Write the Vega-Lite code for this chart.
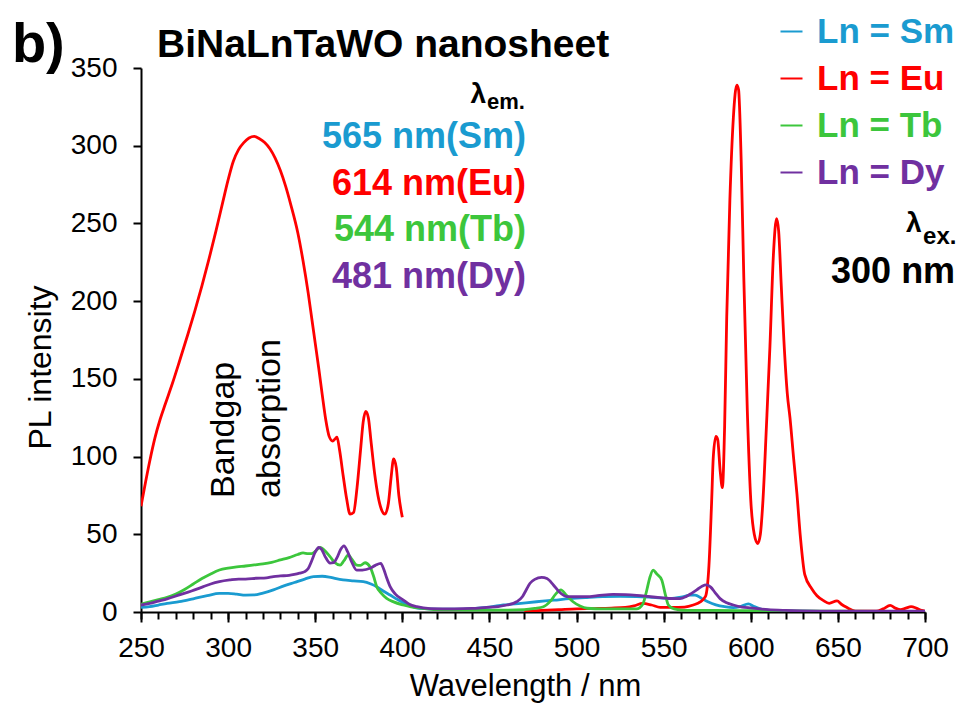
{
  "$schema": "https://vega.github.io/schema/vega-lite/v6.json",
  "width": 784,
  "height": 544,
  "autosize": "none",
  "padding": {"left": 141, "top": 68, "right": 34, "bottom": 94},
  "background": "white",
  "config": {"view": {"stroke": null}, "font": "Liberation Sans"},
  "layer": [
    {
      "data": {"values": [
    {"s":"Sm","x":250,"y":3},{"s":"Sm","x":255,"y":3.5},{"s":"Sm","x":260,"y":4.5},{"s":"Sm","x":265,"y":5.5},{"s":"Sm","x":272,"y":6.6},{"s":"Sm","x":280,"y":8.5},{"s":"Sm","x":288,"y":10.5},{"s":"Sm","x":295,"y":12},{"s":"Sm","x":300,"y":12},{"s":"Sm","x":305,"y":11.5},{"s":"Sm","x":310,"y":10.9},{"s":"Sm","x":315,"y":11},{"s":"Sm","x":320,"y":12.2},{"s":"Sm","x":326,"y":14.2},{"s":"Sm","x":332,"y":16.8},{"s":"Sm","x":338,"y":19},{"s":"Sm","x":344,"y":21.2},{"s":"Sm","x":349,"y":22.8},{"s":"Sm","x":354,"y":23},{"s":"Sm","x":358,"y":22.5},{"s":"Sm","x":362,"y":21.4},{"s":"Sm","x":366,"y":20.6},{"s":"Sm","x":372,"y":20},{"s":"Sm","x":377.6,"y":19.5},{"s":"Sm","x":382,"y":18},{"s":"Sm","x":385.3,"y":16.3},{"s":"Sm","x":389,"y":13.5},{"s":"Sm","x":393,"y":10.9},{"s":"Sm","x":397,"y":8.2},{"s":"Sm","x":400.6,"y":6},{"s":"Sm","x":405,"y":3.8},{"s":"Sm","x":410,"y":2.3},{"s":"Sm","x":420,"y":1.8},{"s":"Sm","x":430,"y":1.8},{"s":"Sm","x":440,"y":2.2},{"s":"Sm","x":450,"y":3.2},{"s":"Sm","x":458,"y":4.5},{"s":"Sm","x":468,"y":5.6},{"s":"Sm","x":477,"y":6.6},{"s":"Sm","x":487,"y":7.6},{"s":"Sm","x":496,"y":8.6},{"s":"Sm","x":505,"y":9.3},{"s":"Sm","x":515,"y":9.9},{"s":"Sm","x":525,"y":10},{"s":"Sm","x":534.5,"y":9.9},{"s":"Sm","x":544,"y":9.4},{"s":"Sm","x":553.6,"y":8.8},{"s":"Sm","x":560,"y":9.6},{"s":"Sm","x":565,"y":10.8},{"s":"Sm","x":568,"y":10.9},{"s":"Sm","x":572,"y":8.6},{"s":"Sm","x":575.4,"y":6.6},{"s":"Sm","x":580,"y":4.6},{"s":"Sm","x":585,"y":3.4},{"s":"Sm","x":590,"y":2.8},{"s":"Sm","x":594,"y":3.5},{"s":"Sm","x":598.6,"y":5.2},{"s":"Sm","x":602,"y":3.5},{"s":"Sm","x":607,"y":1.5},{"s":"Sm","x":615,"y":0.8},{"s":"Sm","x":630,"y":0.5},{"s":"Sm","x":650,"y":0.3},{"s":"Sm","x":700,"y":0.2},

    {"s":"Eu","g":"a","x":250,"y":68},{"s":"Eu","g":"a","x":252,"y":80},{"s":"Eu","g":"a","x":255,"y":97},{"s":"Eu","g":"a","x":258,"y":112},{"s":"Eu","g":"a","x":261,"y":124},{"s":"Eu","g":"a","x":264,"y":134},{"s":"Eu","g":"a","x":268,"y":147},{"s":"Eu","g":"a","x":272,"y":161},{"s":"Eu","g":"a","x":277,"y":179},{"s":"Eu","g":"a","x":281,"y":194},{"s":"Eu","g":"a","x":285,"y":210},{"s":"Eu","g":"a","x":289,"y":227},{"s":"Eu","g":"a","x":293,"y":245},{"s":"Eu","g":"a","x":297,"y":264},{"s":"Eu","g":"a","x":300,"y":278},{"s":"Eu","g":"a","x":303,"y":290},{"s":"Eu","g":"a","x":306,"y":297.5},{"s":"Eu","g":"a","x":309,"y":302},{"s":"Eu","g":"a","x":312,"y":305},{"s":"Eu","g":"a","x":315,"y":306},{"s":"Eu","g":"a","x":318,"y":304.5},{"s":"Eu","g":"a","x":321,"y":302},{"s":"Eu","g":"a","x":324,"y":298},{"s":"Eu","g":"a","x":327,"y":292},{"s":"Eu","g":"a","x":330,"y":284},{"s":"Eu","g":"a","x":333,"y":274},{"s":"Eu","g":"a","x":336,"y":262},{"s":"Eu","g":"a","x":340,"y":244},{"s":"Eu","g":"a","x":343,"y":226},{"s":"Eu","g":"a","x":346,"y":205},{"s":"Eu","g":"a","x":348,"y":189},{"s":"Eu","g":"a","x":350,"y":173},{"s":"Eu","g":"a","x":352,"y":157},{"s":"Eu","g":"a","x":354,"y":140},{"s":"Eu","g":"a","x":356,"y":124},{"s":"Eu","g":"a","x":358,"y":113},{"s":"Eu","g":"a","x":360,"y":110},{"s":"Eu","g":"a","x":361.5,"y":111.5},{"s":"Eu","g":"a","x":362.5,"y":112.5},{"s":"Eu","g":"a","x":364,"y":104},{"s":"Eu","g":"a","x":366,"y":88},{"s":"Eu","g":"a","x":368,"y":73},{"s":"Eu","g":"a","x":370,"y":63},{"s":"Eu","g":"a","x":372,"y":64},{"s":"Eu","g":"a","x":374,"y":80},{"s":"Eu","g":"a","x":376,"y":104},{"s":"Eu","g":"a","x":377.5,"y":122},{"s":"Eu","g":"a","x":379,"y":129},{"s":"Eu","g":"a","x":380.5,"y":125},{"s":"Eu","g":"a","x":382,"y":110},{"s":"Eu","g":"a","x":384,"y":90},{"s":"Eu","g":"a","x":386,"y":75},{"s":"Eu","g":"a","x":388,"y":66},{"s":"Eu","g":"a","x":390,"y":63},{"s":"Eu","g":"a","x":392,"y":70},{"s":"Eu","g":"a","x":393.5,"y":86},{"s":"Eu","g":"a","x":395,"y":98.5},{"s":"Eu","g":"a","x":396.5,"y":93},{"s":"Eu","g":"a","x":398,"y":75},{"s":"Eu","g":"a","x":400,"y":61},

    {"s":"Eu","g":"b","x":470,"y":0.5},{"s":"Eu","g":"b","x":480,"y":1},{"s":"Eu","g":"b","x":490,"y":1.5},{"s":"Eu","g":"b","x":500,"y":2},{"s":"Eu","g":"b","x":510,"y":2.2},{"s":"Eu","g":"b","x":520,"y":2.5},{"s":"Eu","g":"b","x":528,"y":3},{"s":"Eu","g":"b","x":533,"y":4},{"s":"Eu","g":"b","x":538,"y":5.5},{"s":"Eu","g":"b","x":543,"y":4.5},{"s":"Eu","g":"b","x":548,"y":3},{"s":"Eu","g":"b","x":555,"y":3},{"s":"Eu","g":"b","x":562,"y":3.2},{"s":"Eu","g":"b","x":567,"y":4.5},{"s":"Eu","g":"b","x":571,"y":6.5},{"s":"Eu","g":"b","x":574,"y":10},{"s":"Eu","g":"b","x":576,"y":30},{"s":"Eu","g":"b","x":577.5,"y":70},{"s":"Eu","g":"b","x":578.5,"y":100},{"s":"Eu","g":"b","x":580,"y":113},{"s":"Eu","g":"b","x":581,"y":111},{"s":"Eu","g":"b","x":582.5,"y":90},{"s":"Eu","g":"b","x":583.7,"y":80},{"s":"Eu","g":"b","x":585,"y":120},{"s":"Eu","g":"b","x":586.2,"y":190},{"s":"Eu","g":"b","x":588,"y":265},{"s":"Eu","g":"b","x":590,"y":318},{"s":"Eu","g":"b","x":592,"y":339},{"s":"Eu","g":"b","x":593,"y":336},{"s":"Eu","g":"b","x":594.5,"y":290},{"s":"Eu","g":"b","x":596,"y":215},{"s":"Eu","g":"b","x":598,"y":130},{"s":"Eu","g":"b","x":600,"y":72},{"s":"Eu","g":"b","x":602,"y":50},{"s":"Eu","g":"b","x":604,"y":44},{"s":"Eu","g":"b","x":605.5,"y":50},{"s":"Eu","g":"b","x":607,"y":72},{"s":"Eu","g":"b","x":609,"y":120},{"s":"Eu","g":"b","x":611,"y":171},{"s":"Eu","g":"b","x":613,"y":230},{"s":"Eu","g":"b","x":614.8,"y":253},{"s":"Eu","g":"b","x":616,"y":245},{"s":"Eu","g":"b","x":617.5,"y":210},{"s":"Eu","g":"b","x":619,"y":175},{"s":"Eu","g":"b","x":621,"y":140},{"s":"Eu","g":"b","x":622.5,"y":125},{"s":"Eu","g":"b","x":624.5,"y":100},{"s":"Eu","g":"b","x":626.5,"y":76},{"s":"Eu","g":"b","x":628.5,"y":48},{"s":"Eu","g":"b","x":631,"y":24},{"s":"Eu","g":"b","x":635,"y":15},{"s":"Eu","g":"b","x":638,"y":10.5},{"s":"Eu","g":"b","x":641.5,"y":7.5},{"s":"Eu","g":"b","x":645,"y":5.6},{"s":"Eu","g":"b","x":649.5,"y":7.2},{"s":"Eu","g":"b","x":652,"y":5},{"s":"Eu","g":"b","x":655,"y":3},{"s":"Eu","g":"b","x":660,"y":0.6},{"s":"Eu","g":"b","x":672,"y":0.5},{"s":"Eu","g":"b","x":676,"y":2},{"s":"Eu","g":"b","x":680,"y":4.3},{"s":"Eu","g":"b","x":683,"y":2.5},{"s":"Eu","g":"b","x":686,"y":1.5},{"s":"Eu","g":"b","x":689,"y":2.5},{"s":"Eu","g":"b","x":692,"y":3.4},{"s":"Eu","g":"b","x":695,"y":2.5},{"s":"Eu","g":"b","x":698,"y":1},{"s":"Eu","g":"b","x":700,"y":0.5},

    {"s":"Tb","x":250,"y":5},{"s":"Tb","x":255,"y":6.5},{"s":"Tb","x":260,"y":8},{"s":"Tb","x":265,"y":9.5},{"s":"Tb","x":270,"y":11.5},{"s":"Tb","x":275,"y":14.5},{"s":"Tb","x":280,"y":18},{"s":"Tb","x":285,"y":21.5},{"s":"Tb","x":290,"y":24.5},{"s":"Tb","x":295,"y":27},{"s":"Tb","x":300,"y":28.2},{"s":"Tb","x":305,"y":29},{"s":"Tb","x":310,"y":29.6},{"s":"Tb","x":315,"y":30.3},{"s":"Tb","x":320,"y":31},{"s":"Tb","x":325,"y":32},{"s":"Tb","x":330,"y":33.5},{"s":"Tb","x":335,"y":35},{"s":"Tb","x":340,"y":37},{"s":"Tb","x":343,"y":38},{"s":"Tb","x":346,"y":37.5},{"s":"Tb","x":348,"y":37.5},{"s":"Tb","x":350,"y":39},{"s":"Tb","x":352.8,"y":41.6},{"s":"Tb","x":355,"y":40},{"s":"Tb","x":358.5,"y":35.6},{"s":"Tb","x":361,"y":32},{"s":"Tb","x":364.3,"y":30.2},{"s":"Tb","x":366.5,"y":33},{"s":"Tb","x":369,"y":36.7},{"s":"Tb","x":371,"y":34},{"s":"Tb","x":373.8,"y":30.2},{"s":"Tb","x":376,"y":30},{"s":"Tb","x":378.6,"y":31.7},{"s":"Tb","x":381.5,"y":29},{"s":"Tb","x":383.5,"y":23},{"s":"Tb","x":385.3,"y":16.3},{"s":"Tb","x":388,"y":12},{"s":"Tb","x":391,"y":8.8},{"s":"Tb","x":395,"y":6.5},{"s":"Tb","x":400.5,"y":4.5},{"s":"Tb","x":405,"y":3.3},{"s":"Tb","x":410,"y":2.5},{"s":"Tb","x":420,"y":1.5},{"s":"Tb","x":440,"y":1.2},{"s":"Tb","x":460,"y":1.2},{"s":"Tb","x":470,"y":1.5},{"s":"Tb","x":476,"y":2.3},{"s":"Tb","x":481,"y":3.4},{"s":"Tb","x":485,"y":7},{"s":"Tb","x":488,"y":11.5},{"s":"Tb","x":491,"y":14.2},{"s":"Tb","x":494,"y":11},{"s":"Tb","x":498,"y":6.6},{"s":"Tb","x":502,"y":3.8},{"s":"Tb","x":506,"y":2.4},{"s":"Tb","x":515,"y":2},{"s":"Tb","x":525,"y":2},{"s":"Tb","x":534.5,"y":2},{"s":"Tb","x":538,"y":5},{"s":"Tb","x":540.3,"y":14},{"s":"Tb","x":542,"y":22},{"s":"Tb","x":544,"y":27},{"s":"Tb","x":546,"y":24.5},{"s":"Tb","x":548.9,"y":20.6},{"s":"Tb","x":551,"y":11},{"s":"Tb","x":552.7,"y":4.5},{"s":"Tb","x":556,"y":2},{"s":"Tb","x":563,"y":1},{"s":"Tb","x":580,"y":1},{"s":"Tb","x":600,"y":0.8},{"s":"Tb","x":650,"y":0.5},{"s":"Tb","x":700,"y":0.3},

    {"s":"Dy","x":250,"y":4.5},{"s":"Dy","x":255,"y":5.5},{"s":"Dy","x":260,"y":7},{"s":"Dy","x":265,"y":8.5},{"s":"Dy","x":272,"y":11},{"s":"Dy","x":279,"y":13.5},{"s":"Dy","x":285.8,"y":16.3},{"s":"Dy","x":290,"y":18},{"s":"Dy","x":295,"y":19.5},{"s":"Dy","x":301,"y":20.6},{"s":"Dy","x":306,"y":21.2},{"s":"Dy","x":310,"y":21.2},{"s":"Dy","x":316,"y":21.7},{"s":"Dy","x":322,"y":22},{"s":"Dy","x":326,"y":22.8},{"s":"Dy","x":330,"y":23.2},{"s":"Dy","x":335,"y":23.6},{"s":"Dy","x":338,"y":24.2},{"s":"Dy","x":341,"y":25},{"s":"Dy","x":344,"y":26},{"s":"Dy","x":346,"y":28},{"s":"Dy","x":348,"y":33},{"s":"Dy","x":350,"y":38.5},{"s":"Dy","x":352,"y":41.5},{"s":"Dy","x":353.5,"y":40.5},{"s":"Dy","x":356,"y":35},{"s":"Dy","x":358.5,"y":31.5},{"s":"Dy","x":360.5,"y":31.7},{"s":"Dy","x":362.5,"y":35},{"s":"Dy","x":364.5,"y":40},{"s":"Dy","x":366.5,"y":42.5},{"s":"Dy","x":368.5,"y":39},{"s":"Dy","x":371,"y":32},{"s":"Dy","x":373.8,"y":27},{"s":"Dy","x":377,"y":27},{"s":"Dy","x":381.5,"y":28.1},{"s":"Dy","x":384.5,"y":30},{"s":"Dy","x":387.6,"y":31.3},{"s":"Dy","x":389.5,"y":27},{"s":"Dy","x":391,"y":22},{"s":"Dy","x":393,"y":16.3},{"s":"Dy","x":396,"y":11.5},{"s":"Dy","x":400.6,"y":7.7},{"s":"Dy","x":404,"y":5},{"s":"Dy","x":408.3,"y":3.4},{"s":"Dy","x":416,"y":2.2},{"s":"Dy","x":430,"y":2},{"s":"Dy","x":440,"y":2.3},{"s":"Dy","x":448.4,"y":3},{"s":"Dy","x":455,"y":3.5},{"s":"Dy","x":460,"y":4.5},{"s":"Dy","x":465.6,"y":6.6},{"s":"Dy","x":469,"y":10},{"s":"Dy","x":471,"y":14},{"s":"Dy","x":473.3,"y":18.5},{"s":"Dy","x":476,"y":21},{"s":"Dy","x":480,"y":22.3},{"s":"Dy","x":483,"y":21.5},{"s":"Dy","x":486.7,"y":17.4},{"s":"Dy","x":490,"y":13},{"s":"Dy","x":494.4,"y":9.9},{"s":"Dy","x":500,"y":9.8},{"s":"Dy","x":506,"y":9.9},{"s":"Dy","x":512,"y":10.5},{"s":"Dy","x":521,"y":11.4},{"s":"Dy","x":528,"y":11.2},{"s":"Dy","x":534.5,"y":10.7},{"s":"Dy","x":541,"y":10},{"s":"Dy","x":547.9,"y":9.2},{"s":"Dy","x":553,"y":8.7},{"s":"Dy","x":559.4,"y":8.6},{"s":"Dy","x":563,"y":10},{"s":"Dy","x":566,"y":12},{"s":"Dy","x":569,"y":14.2},{"s":"Dy","x":572,"y":16.6},{"s":"Dy","x":574.7,"y":17.4},{"s":"Dy","x":577,"y":16},{"s":"Dy","x":579.5,"y":12.5},{"s":"Dy","x":582.4,"y":8.6},{"s":"Dy","x":586.2,"y":5.9},{"s":"Dy","x":590,"y":4.5},{"s":"Dy","x":595,"y":3.2},{"s":"Dy","x":600,"y":2.6},{"s":"Dy","x":610,"y":1.5},{"s":"Dy","x":620,"y":1},{"s":"Dy","x":640,"y":0.6},{"s":"Dy","x":700,"y":0.5}
      ]},
      "mark": {"type": "line", "interpolate": "monotone", "strokeWidth": 2.8, "clip": true},
      "encoding": {
        "x": {"field": "x", "type": "quantitative",
          "scale": {"domain": [250, 700], "nice": false, "zero": false},
          "axis": {"orient": "bottom", "values": [250,300,350,400,450,500,550,600,650,700], "grid": false,
            "tickSize": 10, "tickWidth": 2, "tickColor": "#000", "domainColor": "#000", "domainWidth": 2,
            "labelFontSize": 28, "labelColor": "#000", "labelPadding": 12, "labelFlush": false,
            "title": "Wavelength / nm", "titleFontSize": 31, "titleFontWeight": "normal", "titleColor": "#000",
            "titleX": 384, "titleY": 83, "titleBaseline": "alphabetic"}},
        "y": {"field": "y", "type": "quantitative",
          "scale": {"domain": [0, 350], "nice": false},
          "axis": {"values": [0,50,100,150,200,250,300,350], "grid": false,
            "tickSize": 8, "tickWidth": 2, "tickColor": "#000", "domainColor": "#000", "domainWidth": 2,
            "labelFontSize": 28, "labelColor": "#000", "labelPadding": 16, "labelFlush": false,
            "title": "PL intensity", "titleFontSize": 32, "titleFontWeight": "normal", "titleColor": "#000",
            "titleX": -91, "titleY": 299, "titleBaseline": "alphabetic"}},
        "color": {"field": "s", "type": "nominal",
          "scale": {"domain": ["Sm", "Eu", "Tb", "Dy"], "range": ["#1a9bd0", "#ff0000", "#3cc63c", "#7030a0"]},
          "legend": {"orient": "none", "legendX": 633, "legendY": -54, "title": null, "padding": 0,
            "symbolType": "stroke", "symbolSize": 484, "symbolStrokeWidth": 2,
            "labelExpr": "'Ln = ' + datum.label", "labelFontSize": 35, "labelFontWeight": "bold",
            "labelOffset": 8, "rowPadding": 11, "labelLimit": 400,
            "encode": {"labels": {"update": {"fill": {"scale": "color", "field": "value"}}}}}},
        "detail": {"field": "g", "type": "nominal"}
      }
    },
    {
      "data": {"values": [{}]},
      "mark": {"type": "text", "text": "Bandgap", "angle": 270, "align": "left", "baseline": "alphabetic", "fontSize": 34, "color": "#000"},
      "encoding": {
        "x": {"datum": 303.4, "type": "quantitative",
          "axis": {"orient": "bottom", "values": [250,260,270,280,290,300,310,320,330,340,350,360,370,380,390,400,410,420,430,440,450,460,470,480,490,500,510,520,530,540,550,560,570,580,590,600,610,620,630,640,650,660,670,680,690,700],
            "tickSize": 7, "tickWidth": 2, "tickColor": "#000", "labels": false, "domain": false, "grid": false, "title": null}},
        "y": {"datum": 73.4, "type": "quantitative"}
      }
    },
    {
      "data": {"values": [{}]},
      "mark": {"type": "text", "text": "absorption", "angle": 270, "align": "left", "baseline": "alphabetic", "fontSize": 34, "color": "#000"},
      "encoding": {"x": {"datum": 329.8, "type": "quantitative", "axis": null}, "y": {"datum": 73.4, "type": "quantitative"}}
    },
    {
      "data": {"values": [{}]},
      "mark": {"type": "text", "text": "b)", "align": "left", "baseline": "alphabetic", "fontSize": 56, "fontWeight": "bold", "color": "#000"},
      "encoding": {"x": {"datum": 175.9, "type": "quantitative", "axis": null}, "y": {"datum": 353.9, "type": "quantitative"}}
    },
    {
      "data": {"values": [{}]},
      "mark": {"type": "text", "text": "BiNaLnTaWO nanosheet", "align": "left", "baseline": "alphabetic", "fontSize": 39, "fontWeight": "bold", "color": "#000"},
      "encoding": {"x": {"datum": 259.2, "type": "quantitative", "axis": null}, "y": {"datum": 357.2, "type": "quantitative"}}
    },
    {
      "data": {"values": [{}]},
      "mark": {"type": "text", "text": "λ", "align": "right", "baseline": "alphabetic", "fontSize": 28, "fontWeight": "bold", "color": "#000"},
      "encoding": {"x": {"datum": 448.0, "type": "quantitative", "axis": null}, "y": {"datum": 327.6, "type": "quantitative"}}
    },
    {
      "data": {"values": [{}]},
      "mark": {"type": "text", "text": "em.", "align": "left", "baseline": "alphabetic", "fontSize": 22, "fontWeight": "bold", "color": "#000"},
      "encoding": {"x": {"datum": 448.6, "type": "quantitative", "axis": null}, "y": {"datum": 323.3, "type": "quantitative"}}
    },
    {
      "data": {"values": [{}]},
      "mark": {"type": "text", "text": "565 nm(Sm)", "align": "right", "baseline": "alphabetic", "fontSize": 36, "fontWeight": "bold", "color": "#1a9bd0"},
      "encoding": {"x": {"datum": 471, "type": "quantitative", "axis": null}, "y": {"datum": 298.5, "type": "quantitative"}}
    },
    {
      "data": {"values": [{}]},
      "mark": {"type": "text", "text": "614 nm(Eu)", "align": "right", "baseline": "alphabetic", "fontSize": 36, "fontWeight": "bold", "color": "#ff0000"},
      "encoding": {"x": {"datum": 471, "type": "quantitative", "axis": null}, "y": {"datum": 268.5, "type": "quantitative"}}
    },
    {
      "data": {"values": [{}]},
      "mark": {"type": "text", "text": "544 nm(Tb)", "align": "right", "baseline": "alphabetic", "fontSize": 36, "fontWeight": "bold", "color": "#3cc63c"},
      "encoding": {"x": {"datum": 471, "type": "quantitative", "axis": null}, "y": {"datum": 238.5, "type": "quantitative"}}
    },
    {
      "data": {"values": [{}]},
      "mark": {"type": "text", "text": "481 nm(Dy)", "align": "right", "baseline": "alphabetic", "fontSize": 36, "fontWeight": "bold", "color": "#7030a0"},
      "encoding": {"x": {"datum": 471, "type": "quantitative", "axis": null}, "y": {"datum": 208.5, "type": "quantitative"}}
    },
    {
      "data": {"values": [{}]},
      "mark": {"type": "text", "text": "λ", "align": "right", "baseline": "alphabetic", "fontSize": 28, "fontWeight": "bold", "color": "#000"},
      "encoding": {"x": {"datum": 698.1, "type": "quantitative", "axis": null}, "y": {"datum": 244.5, "type": "quantitative"}}
    },
    {
      "data": {"values": [{}]},
      "mark": {"type": "text", "text": "ex.", "align": "left", "baseline": "alphabetic", "fontSize": 24, "fontWeight": "bold", "color": "#000"},
      "encoding": {"x": {"datum": 698.9, "type": "quantitative", "axis": null}, "y": {"datum": 236.8, "type": "quantitative"}}
    },
    {
      "data": {"values": [{}]},
      "mark": {"type": "text", "text": "300 nm", "align": "right", "baseline": "alphabetic", "fontSize": 36, "fontWeight": "bold", "color": "#000"},
      "encoding": {"x": {"datum": 717.3, "type": "quantitative", "axis": null}, "y": {"datum": 211.7, "type": "quantitative"}}
    }
  ],
  "resolve": {"scale": {"x": "shared", "y": "shared"}, "axis": {"x": "independent"}}
}
